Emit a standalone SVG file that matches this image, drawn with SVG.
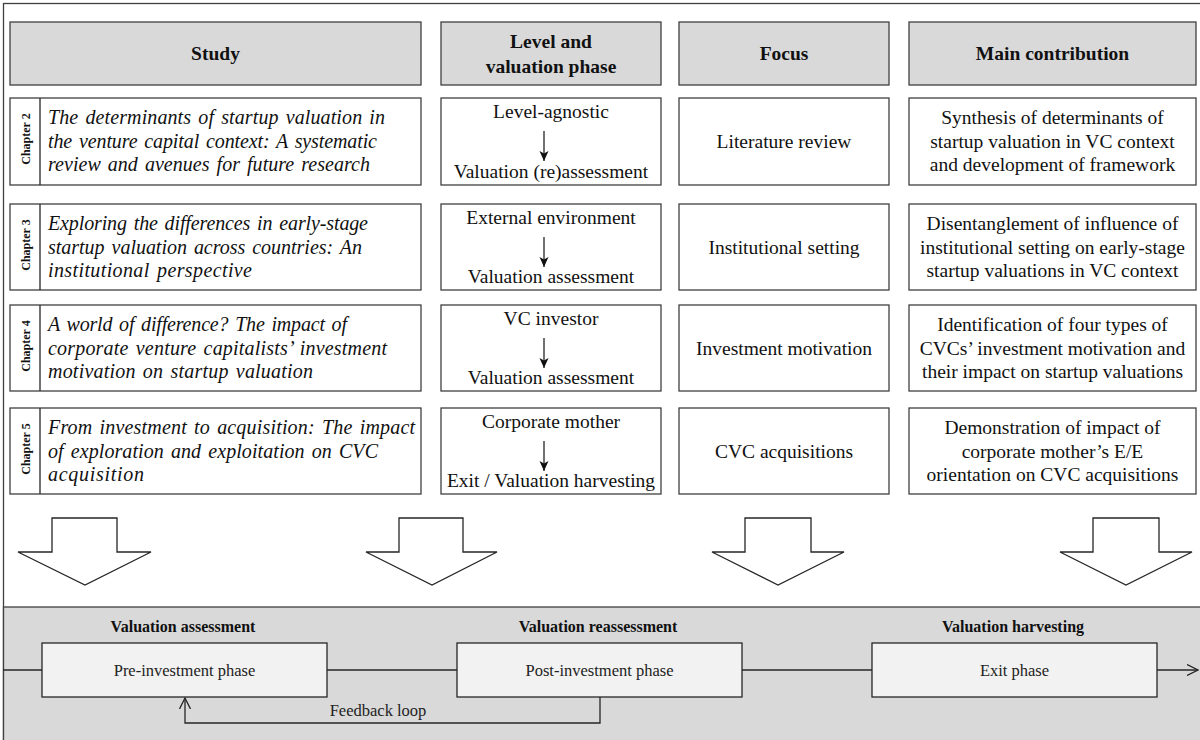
<svg xmlns="http://www.w3.org/2000/svg" width="1200" height="740" viewBox="0 0 1200 740">
<defs>
<style>
.frame{fill:#ffffff;stroke:#404040;stroke-width:1.3}
.hdr{fill:#d9d9d9;stroke:#404040;stroke-width:1.3}
.box{fill:#ffffff;stroke:#404040;stroke-width:1.3}
.ph{fill:#f2f2f2;stroke:#262626;stroke-width:1.3}
.panel{fill:#d9d9d9;stroke:#404040;stroke-width:1.3}
.big{fill:#ffffff;stroke:#262626;stroke-width:1.3}
.ln{fill:none;stroke:#262626;stroke-width:1.3}
.ht{font-family:"Liberation Serif","Times New Roman",serif;font-weight:bold;font-size:19.5px;fill:#111;text-anchor:middle}
.it{font-family:"Liberation Serif","Times New Roman",serif;font-style:italic;font-size:20px;fill:#111;word-spacing:2px}
.tx{font-family:"Liberation Serif","Times New Roman",serif;font-size:19.5px;fill:#111;text-anchor:middle}
.ch{font-family:"Liberation Serif","Times New Roman",serif;font-weight:bold;font-size:12px;fill:#111;text-anchor:middle}
.bt{font-family:"Liberation Serif","Times New Roman",serif;font-weight:bold;font-size:16px;fill:#111;text-anchor:middle}
.pt{font-family:"Liberation Serif","Times New Roman",serif;font-size:16.5px;fill:#222;text-anchor:middle}
</style>
<marker id="fa" viewBox="0 0 10 10" refX="10" refY="5" markerWidth="10" markerHeight="10" markerUnits="userSpaceOnUse" orient="auto">
<path d="M0,0.5 L10,5 L0,9.5 L2.5,5 z" fill="#111"/>
</marker>
<marker id="oa" viewBox="0 0 12 12" refX="11" refY="6" markerWidth="12" markerHeight="12" markerUnits="userSpaceOnUse" orient="auto">
<path d="M0,0.5 L11,6 L0,11.5" fill="none" stroke="#262626" stroke-width="1.3"/>
</marker>
</defs>

<rect class="frame" x="3.5" y="3.5" width="1300" height="800"/>
<rect class="panel" x="3.5" y="607" width="1300" height="200"/>

<g id="headers">
<g id="h-study"><rect class="hdr" x="10" y="22" width="411" height="63"/><text class="ht" x="215.5" y="60">Study</text></g>
<g id="h-level"><rect class="hdr" x="441" y="22" width="220" height="63"/><text class="ht" x="551" y="48">Level and</text><text class="ht" x="551" y="73">valuation phase</text></g>
<g id="h-focus"><rect class="hdr" x="679" y="22" width="210" height="63"/><text class="ht" x="784" y="60">Focus</text></g>
<g id="h-main"><rect class="hdr" x="909" y="22" width="287" height="63"/><text class="ht" x="1052.5" y="60">Main contribution</text></g>
</g>

<g id="row1">
<g id="study1"><rect class="box" x="10" y="98" width="411" height="87"/><line class="ln" x1="40" y1="98" x2="40" y2="185"/>
<text class="ch" transform="translate(29.5,139) rotate(-90)">Chapter 2</text>
<text class="it" x="48" y="124" textLength="337" lengthAdjust="spacing">The determinants of startup valuation in</text>
<text class="it" x="48" y="147.5" textLength="329" lengthAdjust="spacing">the venture capital context: A systematic</text>
<text class="it" x="48" y="171" textLength="322" lengthAdjust="spacing">review and avenues for future research</text></g>
<g id="level1"><rect class="box" x="441" y="98" width="220" height="87"/>
<text class="tx" x="551" y="118">Level-agnostic</text><text class="tx" x="551" y="178">Valuation (re)assessment</text></g>
<g id="focus1"><rect class="box" x="679" y="98" width="210" height="87"/><text class="tx" x="784" y="148">Literature review</text></g>
<g id="main1"><rect class="box" x="909" y="98" width="287" height="87"/>
<text class="tx" x="1052.5" y="124">Synthesis of determinants of</text>
<text class="tx" x="1052.5" y="147.5">startup valuation in VC context</text>
<text class="tx" x="1052.5" y="171">and development of framework</text></g>
</g>

<g id="row2">
<g id="study2"><rect class="box" x="10" y="204" width="411" height="86"/><line class="ln" x1="40" y1="204" x2="40" y2="290"/>
<text class="ch" transform="translate(29.5,245) rotate(-90)">Chapter 3</text>
<text class="it" x="48" y="230" textLength="320" lengthAdjust="spacing">Exploring the differences in early-stage</text>
<text class="it" x="48" y="253.5" textLength="314" lengthAdjust="spacing">startup valuation across countries: An</text>
<text class="it" x="48" y="277" textLength="204" lengthAdjust="spacing">institutional perspective</text></g>
<g id="level2"><rect class="box" x="441" y="204" width="220" height="86"/>
<text class="tx" x="551" y="224">External environment</text><text class="tx" x="551" y="283">Valuation assessment</text></g>
<g id="focus2"><rect class="box" x="679" y="204" width="210" height="86"/><text class="tx" x="784" y="253.5">Institutional setting</text></g>
<g id="main2"><rect class="box" x="909" y="204" width="287" height="86"/>
<text class="tx" x="1052.5" y="230">Disentanglement of influence of</text>
<text class="tx" x="1052.5" y="253.5">institutional setting on early-stage</text>
<text class="tx" x="1052.5" y="277">startup valuations in VC context</text></g>
</g>

<g id="row3">
<g id="study3"><rect class="box" x="10" y="305" width="411" height="86"/><line class="ln" x1="40" y1="305" x2="40" y2="391"/>
<text class="ch" transform="translate(29.5,346) rotate(-90)">Chapter 4</text>
<text class="it" x="48" y="331" textLength="299" lengthAdjust="spacing">A world of difference? The impact of</text>
<text class="it" x="48" y="354.5" textLength="339" lengthAdjust="spacing">corporate venture capitalists’ investment</text>
<text class="it" x="48" y="378" textLength="265" lengthAdjust="spacing">motivation on startup valuation</text></g>
<g id="level3"><rect class="box" x="441" y="305" width="220" height="86"/>
<text class="tx" x="551" y="325">VC investor</text><text class="tx" x="551" y="384">Valuation assessment</text></g>
<g id="focus3"><rect class="box" x="679" y="305" width="210" height="86"/><text class="tx" x="784" y="354.5">Investment motivation</text></g>
<g id="main3"><rect class="box" x="909" y="305" width="287" height="86"/>
<text class="tx" x="1052.5" y="331">Identification of four types of</text>
<text class="tx" x="1052.5" y="354.5">CVCs’ investment motivation and</text>
<text class="tx" x="1052.5" y="378">their impact on startup valuations</text></g>
</g>

<g id="row4">
<g id="study4"><rect class="box" x="10" y="408" width="411" height="86"/><line class="ln" x1="40" y1="408" x2="40" y2="494"/>
<text class="ch" transform="translate(29.5,449) rotate(-90)">Chapter 5</text>
<text class="it" x="48" y="434" textLength="367" lengthAdjust="spacing">From investment to acquisition: The impact</text>
<text class="it" x="48" y="457.5" textLength="330" lengthAdjust="spacing">of exploration and exploitation on CVC</text>
<text class="it" x="48" y="481" textLength="96" lengthAdjust="spacing">acquisition</text></g>
<g id="level4"><rect class="box" x="441" y="408" width="220" height="86"/>
<text class="tx" x="551" y="428">Corporate mother</text><text class="tx" x="551" y="487">Exit / Valuation harvesting</text></g>
<g id="focus4"><rect class="box" x="679" y="408" width="210" height="86"/><text class="tx" x="784" y="457.5">CVC acquisitions</text></g>
<g id="main4"><rect class="box" x="909" y="408" width="287" height="86"/>
<text class="tx" x="1052.5" y="434">Demonstration of impact of</text>
<text class="tx" x="1052.5" y="457.5">corporate mother’s E/E</text>
<text class="tx" x="1052.5" y="481">orientation on CVC acquisitions</text></g>
</g>

<g id="big-arrows">
<polygon class="big" points="52,518 117,518 117,552 151,552 85,585 18,552 52,552"/>
<polygon class="big" points="399,518 463,518 463,552 497,552 432,585 366,552 399,552"/>
<polygon class="big" points="745,518 811,518 811,552 844,552 778,585 712,552 745,552"/>
<polygon class="big" points="1093,518 1159,518 1159,552 1192,552 1126,585 1060,552 1093,552"/>
</g>

<g id="phases">
<g id="pre"><text class="bt" x="183" y="632">Valuation assessment</text><rect class="ph" x="42" y="643" width="285" height="54"/><text class="pt" x="184.5" y="676">Pre-investment phase</text></g>
<g id="post"><text class="bt" x="598" y="632">Valuation reassessment</text><rect class="ph" x="457" y="643" width="285" height="54"/><text class="pt" x="599.5" y="676">Post-investment phase</text></g>
<g id="exit"><text class="bt" x="1013" y="632">Valuation harvesting</text><rect class="ph" x="872" y="643" width="285" height="54"/><text class="pt" x="1014.5" y="676">Exit phase</text></g>
</g>

<g id="connectors">
<line class="ln" x1="544" y1="131" x2="544" y2="161" marker-end="url(#fa)"/>
<line class="ln" x1="544" y1="237" x2="544" y2="267" marker-end="url(#fa)"/>
<line class="ln" x1="544" y1="338" x2="544" y2="368" marker-end="url(#fa)"/>
<line class="ln" x1="544" y1="441" x2="544" y2="471" marker-end="url(#fa)"/>
<line class="ln" x1="3" y1="670" x2="42" y2="670"/>
<line class="ln" x1="327" y1="670" x2="457" y2="670"/>
<line class="ln" x1="742" y1="670" x2="872" y2="670"/>
<line class="ln" x1="1157" y1="670" x2="1198" y2="670" marker-end="url(#oa)"/>
<polyline class="ln" points="600,697 600,723 185,723 185,698" marker-end="url(#oa)"/>
<text class="pt" x="378" y="716">Feedback loop</text>
</g>
</svg>
